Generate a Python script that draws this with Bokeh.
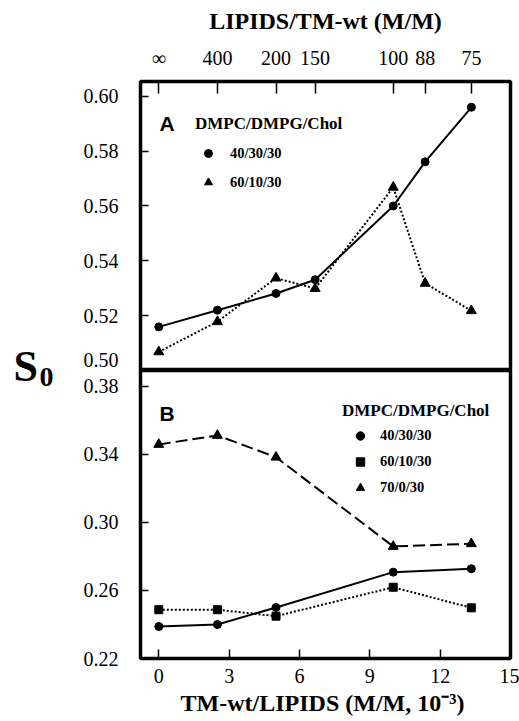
from bokeh.plotting import figure
from bokeh.models import (Range1d, FixedTicker, PrintfTickFormatter, Legend,
                          LegendItem, Label)
from bokeh.layouts import row, column
from bokeh.embed import file_html
from bokeh.resources import INLINE

# ---------------- data ----------------
# Panel A  (DMPC/DMPG/Chol)
A_X = [0, 2.5, 5, 6.67, 10, 11.36, 13.33]
A_403030 = [0.5159, 0.5220, 0.5281, 0.5331, 0.5600, 0.5761, 0.5960]
A_601030 = [0.5068, 0.5178, 0.5337, 0.5299, 0.5668, 0.5318, 0.5218]

# Panel B  (DMPC/DMPG/Chol)
B_X = [0, 2.5, 5, 10, 13.33]
B_403030 = [0.2388, 0.2400, 0.2500, 0.2708, 0.2728]
B_601030 = [0.2487, 0.2487, 0.2449, 0.2619, 0.2498]
B_70030 = [0.3459, 0.3512, 0.3384, 0.2859, 0.2875]

# tick labels
TOP_RATIOS = [400, 200, 150, 100, 88, 75]          # LIPIDS/TM-wt
BOTTOM_TICKS = [0, 3, 6, 9, 12, 15]
A_Y_TICKS = [0.50, 0.52, 0.54, 0.56, 0.58, 0.60]
B_Y_TICKS = [0.22, 0.26, 0.30, 0.34, 0.38]

SERIF = "Liberation Serif"
SANS = "Liberation Sans"
X_RANGE = Range1d(-0.78, 15.0)


def style_fig(p):
    p.outline_line_color = "black"
    p.outline_line_width = 3.5
    p.outline_line_alpha = 1
    p.xgrid.grid_line_color = None
    p.ygrid.grid_line_color = None
    p.background_fill_color = "white"
    p.border_fill_color = "white"


def style_axis(ax, tick_in, standoff):
    ax.axis_line_color = None
    ax.major_tick_in = tick_in
    ax.major_tick_out = 0
    ax.minor_tick_line_color = None
    ax.major_tick_line_color = "black"
    ax.major_tick_line_width = 1.5
    ax.major_label_standoff = standoff
    ax.major_label_text_font = SERIF
    ax.major_label_text_font_size = "20px"
    ax.major_label_text_color = "black"
    ax.axis_label_text_font = SERIF
    ax.axis_label_text_font_style = "bold"
    ax.axis_label_text_font_size = "24px"
    ax.axis_label_text_color = "black"


def make_legend(items, loc, glyph_w, standoff, spacing, item_h, title_standoff):
    lg = Legend(items=items, title="DMPC/DMPG/Chol", location=loc)
    lg.title_text_font = SERIF
    lg.title_text_font_style = "bold"
    lg.title_text_font_size = "17px"
    lg.title_text_color = "black"
    lg.title_standoff = title_standoff
    lg.label_text_font = SERIF
    lg.label_text_font_style = "bold"
    lg.label_text_font_size = "14.5px"
    lg.label_text_color = "black"
    lg.glyph_width = glyph_w
    lg.glyph_height = item_h
    lg.label_height = item_h
    lg.label_standoff = standoff
    lg.spacing = spacing
    lg.padding = 0
    lg.margin = 0
    lg.border_line_color = None
    lg.background_fill_alpha = 0
    return lg


# ---------------- panel A ----------------
pa = figure(width=444, height=370, x_range=X_RANGE, y_range=Range1d(0.50, 0.6054),
            x_axis_location="above", output_backend="svg", toolbar_location=None,
            min_border_left=65, min_border_right=9, min_border_top=81,
            min_border_bottom=0)
style_fig(pa)

top_ticks = [0] + [1000.0 / r for r in TOP_RATIOS]
top_labels = ["\u221e"] + [str(r) for r in TOP_RATIOS]
xa = pa.xaxis[0]
xa.ticker = FixedTicker(ticks=top_ticks)
xa.major_label_overrides = {t: l for t, l in zip(top_ticks, top_labels)}
xa.axis_label = "LIPIDS/TM-wt (M/M)"
style_axis(xa, 12, 13)
xa.axis_label_standoff = 10

ya = pa.yaxis[0]
ya.ticker = FixedTicker(ticks=A_Y_TICKS)
ya.formatter = PrintfTickFormatter(format="%.2f")
# lowest label sits just above the panel divider
ya.major_label_overrides = {A_Y_TICKS[0]: "%.2f\n" % A_Y_TICKS[0]}
style_axis(ya, 8, 22)
ya.major_label_text_line_height = 0.0

pa.line(A_X, A_403030, line_color="black", line_width=2)
ra1 = pa.scatter(A_X, A_403030, marker="circle", size=8, color="black")
pa.line(A_X, A_601030, line_color="black", line_width=2, line_dash="2 2")
ra2 = pa.scatter(A_X, A_601030, marker="triangle", size=10, color="black")

pa.add_layout(make_legend([LegendItem(label="40/30/30", renderers=[ra1]),
                           LegendItem(label="60/10/30", renderers=[ra2])],
                          (55, 178), 26, 9, 9, 20, 9))

pa.add_layout(Label(x=0.03, y=0.590, text="A", text_font=SANS,
                    text_font_style="bold", text_font_size="21px",
                    text_baseline="middle", text_color="black"))

# ---------------- panel B ----------------
pb = figure(width=444, height=351, x_range=X_RANGE, y_range=Range1d(0.22, 0.3894),
            output_backend="svg", toolbar_location=None,
            min_border_left=65, min_border_right=9, min_border_top=0,
            min_border_bottom=63)
style_fig(pb)

xb = pb.xaxis[0]
xb.ticker = FixedTicker(ticks=BOTTOM_TICKS)
xb.axis_label = "TM-wt/LIPIDS  (M/M, 10\u207b\u00b3)"
style_axis(xb, 9, 10)
xb.axis_label_standoff = 4

yb = pb.yaxis[0]
yb.ticker = FixedTicker(ticks=B_Y_TICKS)
yb.formatter = PrintfTickFormatter(format="%.2f")
style_axis(yb, 8, 22)

pb.line(B_X, B_403030, line_color="black", line_width=2)
rb1 = pb.scatter(B_X, B_403030, marker="circle", size=8, color="black")
pb.line(B_X, B_601030, line_color="black", line_width=2, line_dash="2 2")
rb2 = pb.scatter(B_X, B_601030, marker="square", size=8, color="black")
pb.line(B_X, B_70030, line_color="black", line_width=2, line_dash="12 5")
rb3 = pb.scatter(B_X, B_70030, marker="triangle", size=10, color="black")

pb.add_layout(make_legend([LegendItem(label="40/30/30", renderers=[rb1]),
                           LegendItem(label="60/10/30", renderers=[rb2]),
                           LegendItem(label="70/0/30", renderers=[rb3])],
                          (202, 160), 36, 2, 5, 21, 4))

pb.add_layout(Label(x=0.03, y=0.364, text="B", text_font=SANS,
                    text_font_style="bold", text_font_size="21px",
                    text_baseline="middle", text_color="black"))

# ---------------- S0 label strip ----------------
ps = figure(width=75, height=721, x_range=Range1d(0, 75), y_range=Range1d(721, 0),
            x_axis_location=None, y_axis_location=None, output_backend="svg",
            toolbar_location=None, min_border=0)
ps.outline_line_color = None
ps.xgrid.grid_line_color = None
ps.ygrid.grid_line_color = None
ps.add_layout(Label(x=13, y=366, text="S", text_font=SERIF, text_font_style="bold",
                    text_font_size="44px", text_baseline="alphabetic",
                    text_color="black"))
ps.add_layout(Label(x=39, y=376, text="0", text_font=SERIF, text_font_style="bold",
                    text_font_size="28px", text_baseline="alphabetic",
                    text_color="black"))

layout = row(ps, column(pa, pb))
open("out.html", "w").write(file_html(layout, INLINE))
